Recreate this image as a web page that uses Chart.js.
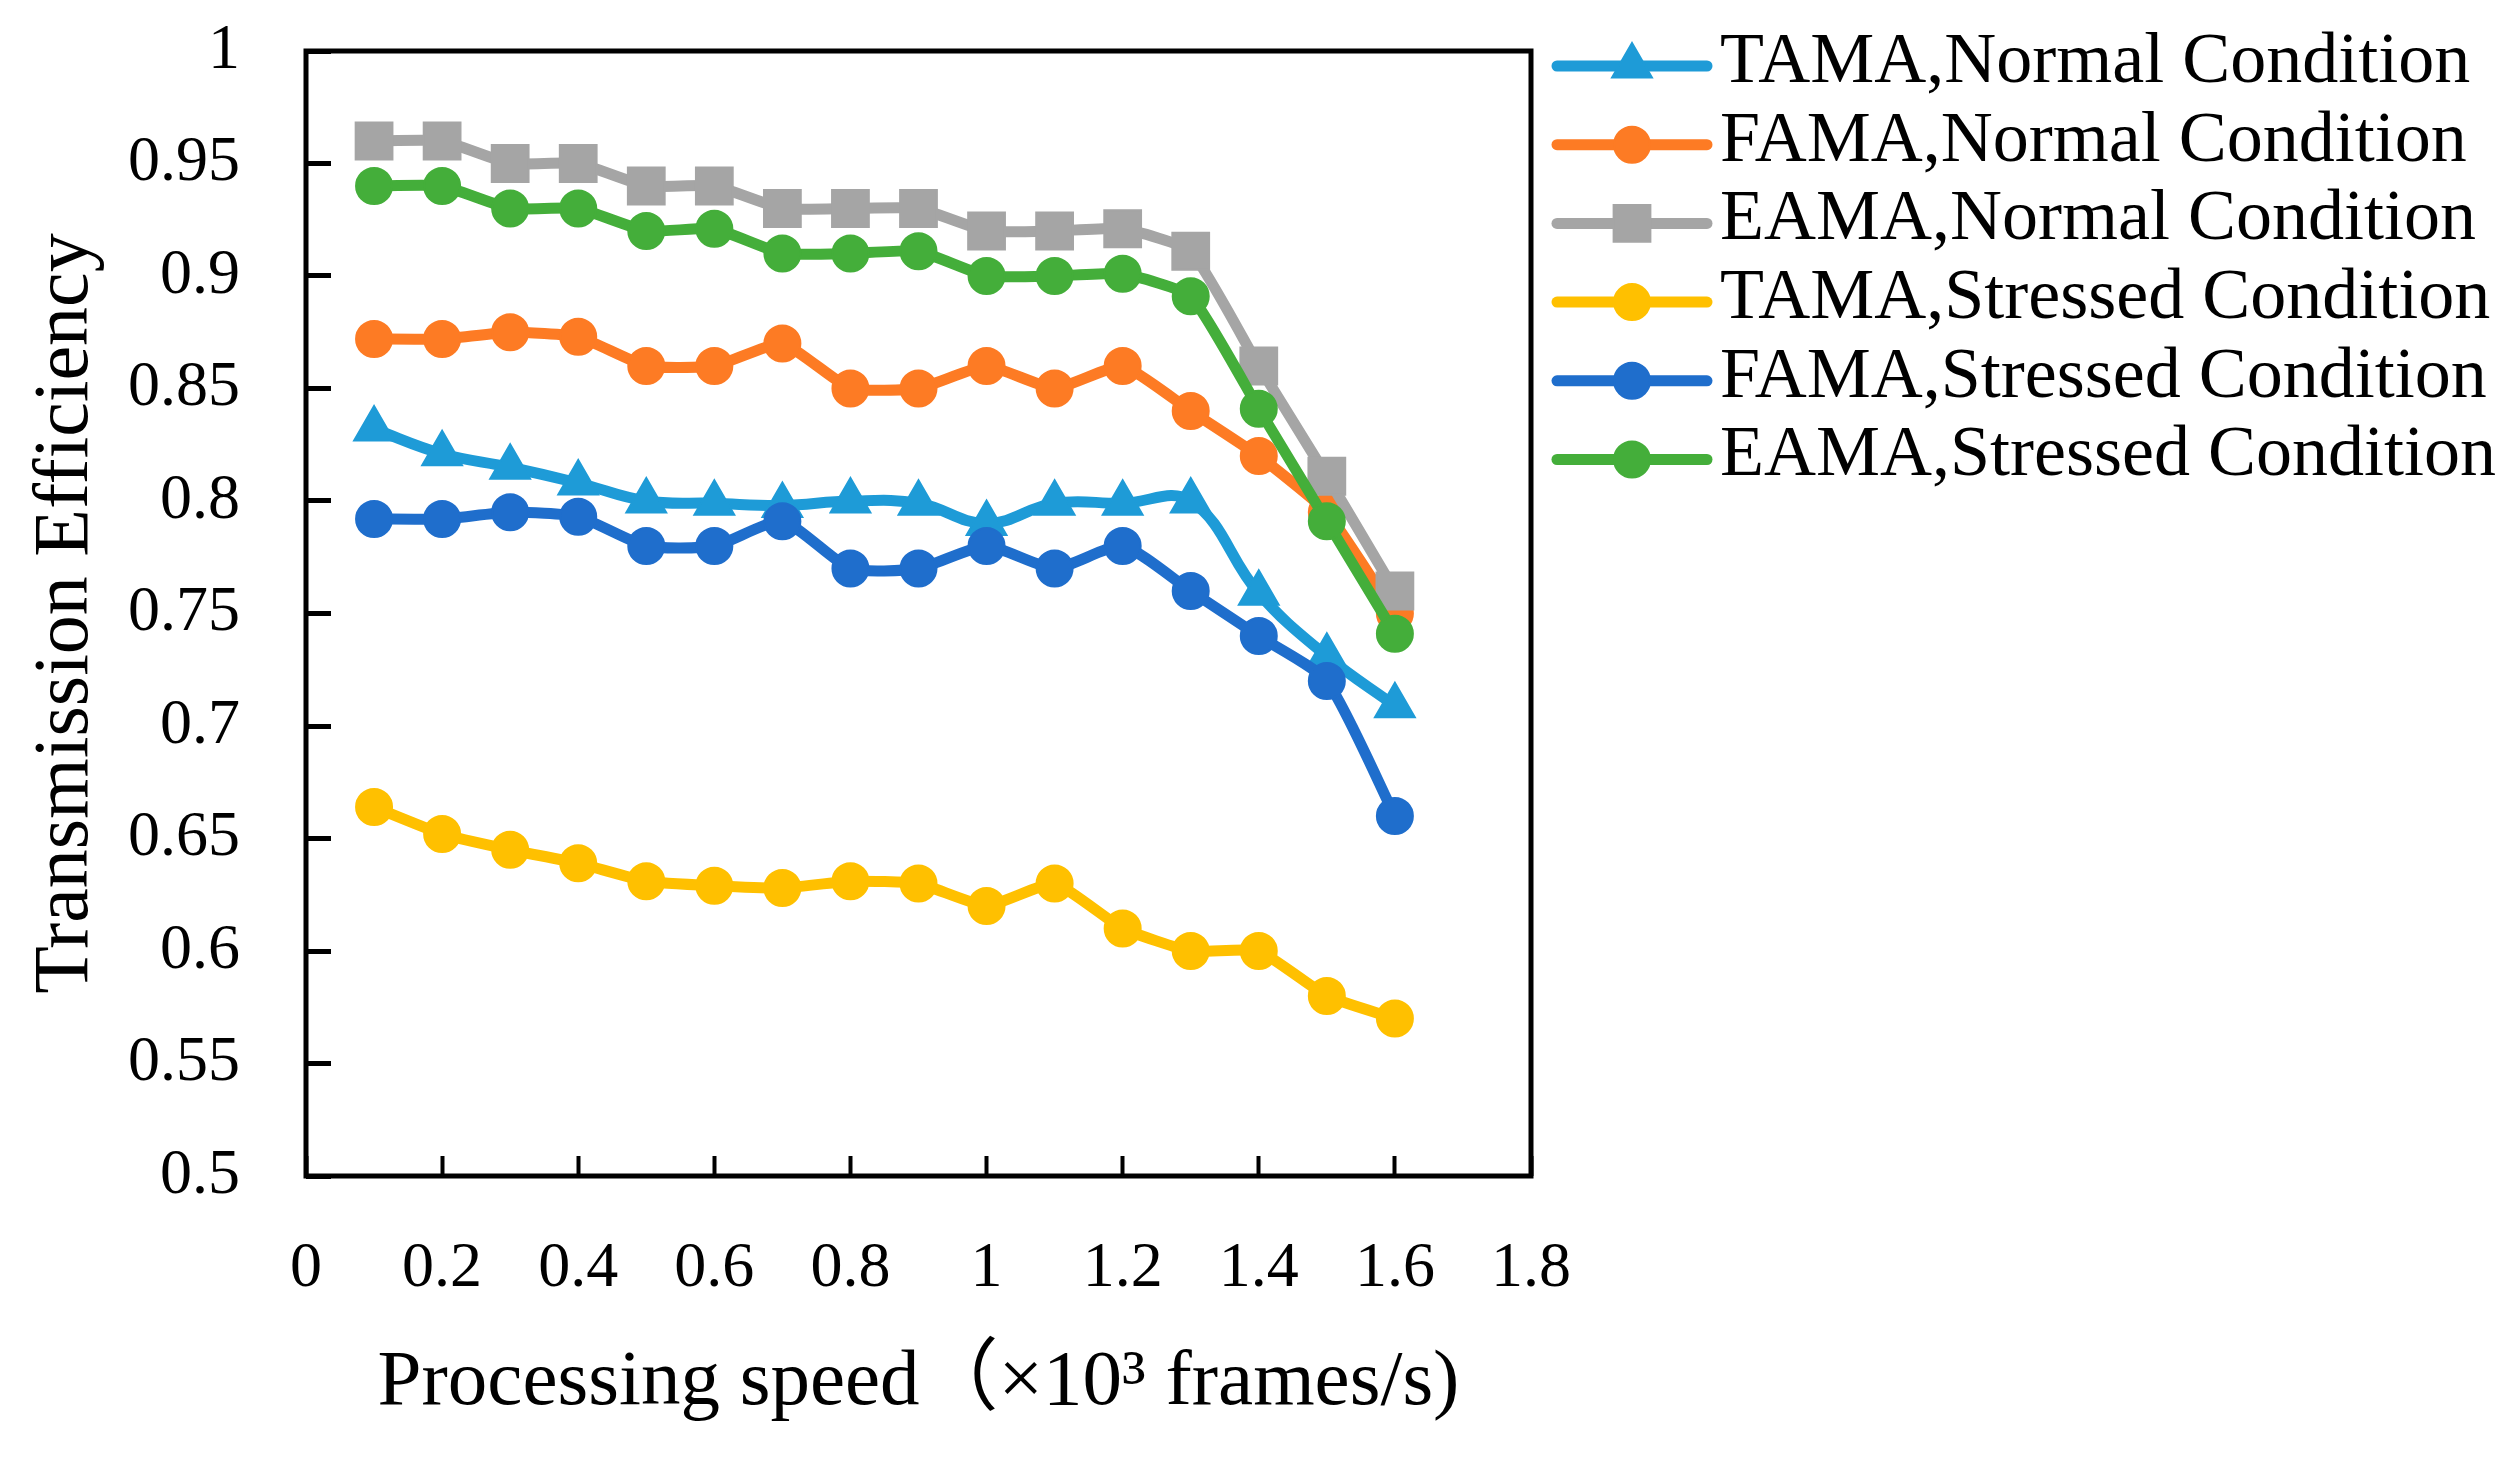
<!DOCTYPE html>
<html>
<head>
<meta charset="utf-8">
<title>Transmission Efficiency</title>
<script src="https://cdn.jsdelivr.net/npm/chart.js@4.4.1/dist/chart.umd.min.js"></script>
<style>
  html, body { margin: 0; padding: 0; background: #fff; }
  #wrap { width: 2511px; height: 1460px; }
</style>
</head>
<body>
<div id="wrap"><canvas id="effChart" width="2511" height="1460"></canvas></div>
<script>
// Processing speed (x10^3 frames/s)
const speeds = [0.1, 0.2, 0.3, 0.4, 0.5, 0.6, 0.7, 0.8, 0.9, 1.0, 1.1, 1.2, 1.3, 1.4, 1.5, 1.6];

const seriesNames = [
    'TAMA,Normal Condition',
    'FAMA,Normal Condition',
    'EAMA,Normal Condition',
    'TAMA,Stressed Condition',
    'FAMA,Stressed Condition',
    'EAMA,Stressed Condition'
];

const tamaNormal   = [0.832, 0.821, 0.815, 0.808, 0.800, 0.799, 0.798, 0.800, 0.799, 0.790, 0.799, 0.799, 0.800, 0.759, 0.731, 0.709];
const famaNormal   = [0.872, 0.872, 0.875, 0.873, 0.860, 0.860, 0.870, 0.850, 0.850, 0.860, 0.850, 0.860, 0.840, 0.820, 0.795, 0.750];
const eamaNormal   = [0.960, 0.960, 0.950, 0.950, 0.940, 0.940, 0.930, 0.930, 0.930, 0.920, 0.920, 0.921, 0.911, 0.860, 0.811, 0.760];
const tamaStressed = [0.664, 0.652, 0.645, 0.639, 0.631, 0.629, 0.628, 0.631, 0.630, 0.620, 0.630, 0.610, 0.600, 0.600, 0.580, 0.570];
const famaStressed = [0.792, 0.792, 0.795, 0.793, 0.780, 0.780, 0.791, 0.770, 0.770, 0.780, 0.770, 0.780, 0.760, 0.740, 0.720, 0.660];
const eamaStressed = [0.940, 0.940, 0.930, 0.930, 0.920, 0.921, 0.910, 0.910, 0.911, 0.900, 0.900, 0.901, 0.891, 0.841, 0.791, 0.741];

const xTicks = [0, 0.2, 0.4, 0.6, 0.8, 1, 1.2, 1.4, 1.6, 1.8];
const yTicks = [0.5, 0.55, 0.6, 0.65, 0.7, 0.75, 0.8, 0.85, 0.9, 0.95, 1];

const xTitle = 'Processing speed（×10³ frames/s)';
const yTitle = 'Transmission Efficiency';

// look of each series (same order as seriesNames)
const colors  = ['#1e9bd7', '#fd7b24', '#a5a5a5', '#ffc000', '#1f6ecc', '#44ae3a'];
const markers = ['triangle', 'circle', 'rect', 'circle', 'circle', 'circle'];
const radii   = [23, 18, 26, 18, 18, 18];
const tension = [0.4, 0.15, 0.15, 0.15, 0.2, 0.15];

const allSeries = [tamaNormal, famaNormal, eamaNormal, tamaStressed, famaStressed, eamaStressed];
const FONT = "'Liberation Serif', 'Noto Sans CJK SC', serif";

const datasets = allSeries.map((values, i) => ({
    label: seriesNames[i],
    data: values.map((v, j) => ({ x: speeds[j], y: v })),
    borderColor: colors[i],
    backgroundColor: colors[i],
    borderWidth: 11,
    pointStyle: markers[i],
    pointRadius: radii[i],
    pointBorderWidth: 2,
    pointBackgroundColor: colors[i],
    pointBorderColor: colors[i],
    tension: tension[i],
    // later series sit on top, like the original
    order: allSeries.length - i
}));

const tickLabel = v => String(Number(v.toFixed(2)));

// no extra room for overhanging tick labels, the plot box is placed by layout padding
function noOverhang(axis) {
    axis.paddingTop = 0;
    axis.paddingBottom = 0;
    axis.paddingLeft = 0;
    axis.paddingRight = 0;
}

// frame round the plot area
const boxPlugin = {
    id: 'plotBox',
    beforeDatasetsDraw(chart) {
        const { ctx, chartArea: a } = chart;
        ctx.save();
        ctx.strokeStyle = '#000';
        ctx.lineWidth = 5;
        ctx.strokeRect(a.left, a.top, a.right - a.left, a.bottom - a.top);
        ctx.restore();
    }
};

// legend with line + marker samples, right of the plot
const legendPlugin = {
    id: 'lineLegend',
    afterDraw(chart) {
        const ctx = chart.ctx;
        const lineX0 = 1557, lineX1 = 1707, markX = 1632, textX = 1720;
        const rowTop = 66, rowStep = 78.7;
        ctx.save();
        chart.data.datasets.forEach((ds, i) => {
            const y = rowTop + i * rowStep;
            ctx.strokeStyle = ds.borderColor;
            ctx.fillStyle = ds.borderColor;
            ctx.lineWidth = 11;
            ctx.lineCap = 'round';
            ctx.beginPath();
            ctx.moveTo(lineX0, y);
            ctx.lineTo(lineX1, y);
            ctx.stroke();
            ctx.lineWidth = 2;
            if (Chart.helpers && Chart.helpers.drawPoint) {
                Chart.helpers.drawPoint(ctx, { pointStyle: ds.pointStyle, radius: ds.pointRadius, rotation: 0, borderWidth: 2 }, markX, y);
            } else {
                ctx.beginPath();
                ctx.arc(markX, y, ds.pointRadius, 0, Math.PI * 2);
                ctx.fill();
            }
            ctx.fillStyle = '#000';
            ctx.font = '72px ' + FONT;
            ctx.textAlign = 'left';
            ctx.textBaseline = 'middle';
            ctx.fillText(ds.label, textX, y - 3);
        });
        ctx.restore();
    }
};

const chart = new Chart(document.getElementById('effChart'), {
    type: 'line',
    data: { datasets: datasets },
    options: {
        responsive: false,
        devicePixelRatio: 1,
        animation: false,
        events: [],
        layout: { padding: { left: 0, top: 51, right: 980, bottom: 0 } },
        plugins: { legend: { display: false }, tooltip: { enabled: false } },
        scales: {
            x: {
                type: 'linear',
                min: 0,
                max: 1.8,
                afterBuildTicks: axis => { axis.ticks = xTicks.map(v => ({ value: v })); },
                afterFit: axis => { axis.height = 284; noOverhang(axis); },
                border: { display: false },
                grid: { drawOnChartArea: false, drawTicks: true, tickLength: -20, tickWidth: 4, tickColor: '#000' },
                ticks: { callback: tickLabel, color: '#000', padding: 75, maxRotation: 0, autoSkip: false, font: { family: FONT, size: 64 } },
                title: { display: true, text: xTitle, color: '#000', padding: { top: 0, bottom: 29 }, font: { family: FONT, size: 79 } }
            },
            y: {
                min: 0.5,
                max: 1,
                afterBuildTicks: axis => { axis.ticks = yTicks.map(v => ({ value: v })); },
                afterFit: axis => { axis.width = 306; noOverhang(axis); },
                border: { display: false },
                grid: { drawOnChartArea: false, drawTicks: true, tickLength: -25, tickWidth: 5, tickColor: '#000' },
                ticks: { callback: tickLabel, color: '#000', padding: 91, autoSkip: false, font: { family: FONT, size: 64 } },
                title: { display: true, text: yTitle, color: '#000', padding: { top: 20, bottom: 0 }, font: { family: FONT, size: 78 } }
            }
        }
    },
    plugins: [boxPlugin, legendPlugin]
});
</script>
</body>
</html>
